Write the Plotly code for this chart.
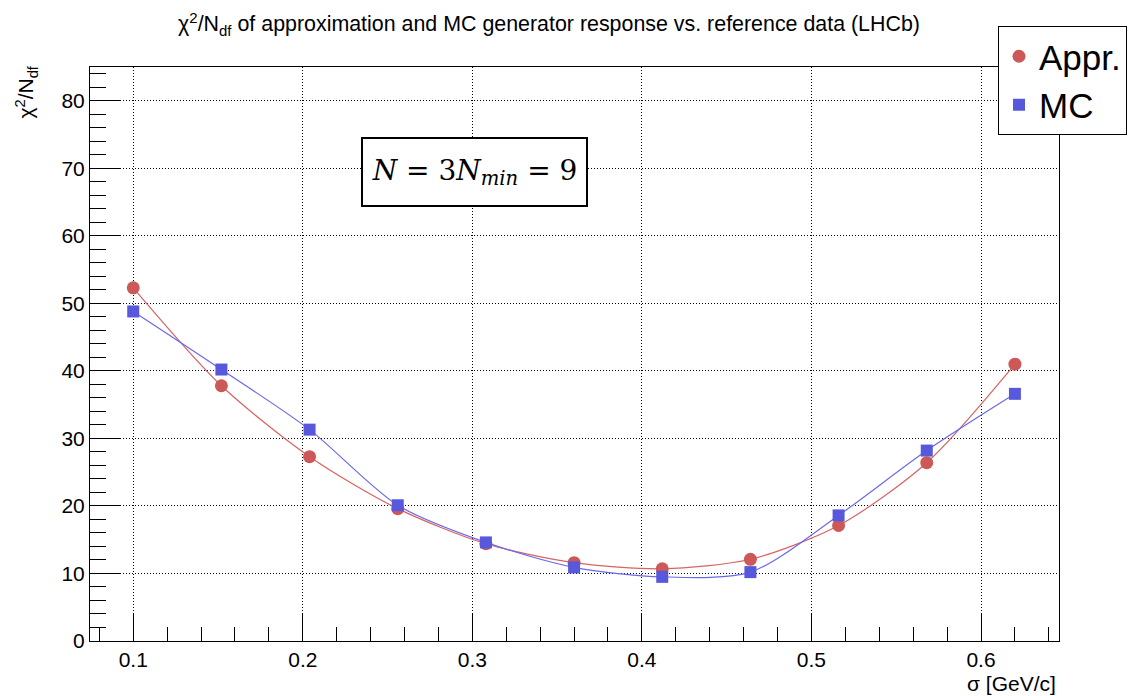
import plotly.graph_objects as go

sigma = [0.100, 0.152, 0.204, 0.256, 0.308, 0.360, 0.412, 0.464, 0.516, 0.568, 0.620]
appr = [52.3, 37.8, 27.3, 19.6, 14.4, 11.6, 10.7, 12.1, 17.1, 26.4, 41.0]
mc = [48.8, 40.2, 31.3, 20.1, 14.6, 10.9, 9.5, 10.2, 18.6, 28.2, 36.6]

RED = "rgb(205,88,88)"
BLUE = "rgb(88,88,220)"
RED_LINE = "rgb(214,100,100)"
BLUE_LINE = "rgb(105,105,235)"

fig = go.Figure()
fig.add_trace(go.Scatter(x=sigma, y=appr, mode="lines", line=dict(color=RED_LINE, width=1.2, shape="spline", smoothing=0.8),
                         showlegend=False, hoverinfo="skip"))
fig.add_trace(go.Scatter(x=sigma, y=mc, mode="lines", line=dict(color=BLUE_LINE, width=1.2, shape="spline", smoothing=0.8),
                         showlegend=False, hoverinfo="skip"))
fig.add_trace(go.Scatter(x=sigma, y=appr, mode="markers", name="Appr.",
                         marker=dict(symbol="circle", size=13, color=RED)))
fig.add_trace(go.Scatter(x=sigma, y=mc, mode="markers", name="MC",
                         marker=dict(symbol="square", size=12, color=BLUE)))

W, H = 1137, 696
L, R, T, B = 90, 1059, 67, 641

def px_x(p):
    return (p - L) / (R - L)

def px_y(p):
    return (B - p) / (B - T)

SANS = "Liberation Sans, Arial, sans-serif"

axis_common = dict(
    showline=True, linecolor="black", linewidth=1, mirror=True,
    showgrid=True, gridcolor="black", griddash="1px,2px", gridwidth=1,
    zeroline=False, ticks="inside", tickcolor="black",
    tickfont=dict(family=SANS, size=21, color="black"),
)

fig.update_xaxes(range=[0.0745, 0.646], dtick=0.1, tick0=0.0, ticklen=28, tickwidth=1,
                 minor=dict(dtick=0.02, ticks="inside", ticklen=14, tickcolor="black", showgrid=False),
                 **axis_common)
fig.update_yaxes(range=[0, 85], dtick=10, tick0=0, ticklen=30, tickwidth=1,
                 minor=dict(dtick=2, ticks="inside", ticklen=16, tickcolor="black", showgrid=False),
                 **axis_common)

fig.update_layout(
    width=W, height=H,
    margin=dict(l=L, r=W - R, t=T, b=H - B, autoexpand=False),
    plot_bgcolor="white", paper_bgcolor="white",
    font=dict(family=SANS, color="black"),
    title=dict(text="χ<sup>2</sup>/N<sub>df</sub> of approximation and MC generator response vs. reference data (LHCb)",
               x=549 / W, xref="container", xanchor="center", y=1 - 24 / H, yref="container", yanchor="middle",
               font=dict(size=21.4, color="black")),
    legend=dict(x=px_x(998), y=px_y(26), xanchor="left", yanchor="top",
                bgcolor="white", bordercolor="black", borderwidth=1,
                font=dict(size=35, color="black"), tracegroupgap=0, entrywidth=160),
    showlegend=True,
)

fig.add_annotation(text="χ<sup>2</sup>/N<sub>df</sub>", textangle=-90, xref="paper", yref="paper",
                   x=px_x(26), y=px_y(64), xanchor="center", yanchor="top", showarrow=False,
                   font=dict(size=21, color="black"))
fig.add_annotation(text="σ [GeV/c]", xref="paper", yref="paper", x=px_x(1058), y=px_y(683),
                   xanchor="right", yanchor="middle", showarrow=False, font=dict(size=21, color="black"))
fig.add_annotation(text="<i>N</i> = 3<i>N</i><sub><i>min</i></sub> = 9", xref="paper", yref="paper",
                   x=px_x(474.5), y=px_y(172), xanchor="center", yanchor="middle", showarrow=False,
                   width=221, height=64, bgcolor="white", bordercolor="black", borderwidth=2,
                   font=dict(family="DejaVu Serif, Liberation Serif, serif", size=28, color="black"))

fig.write_html("out.html", config={"displayModeBar": False},
               post_script="document.body.style.margin='0';")
